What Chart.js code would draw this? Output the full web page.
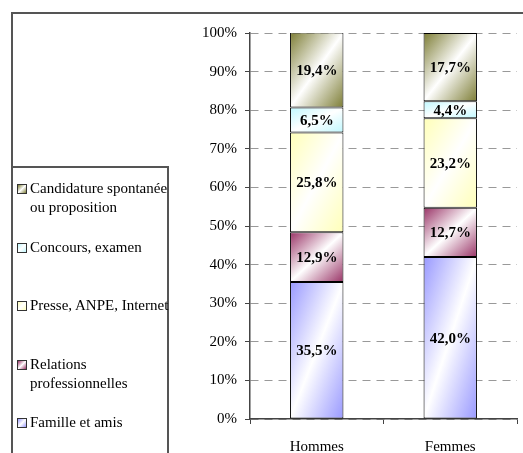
<!DOCTYPE html>
<html>
<head>
<meta charset="utf-8">
<script src="https://cdn.jsdelivr.net/npm/chart.js@4/dist/chart.umd.min.js"></script>
<style>
    body { margin: 0; background: #fff; font-family: "Times New Roman", "Liberation Serif", Times, serif; overflow: hidden; }
    #cadre { position: absolute; left: 11px; top: 12px; width: 600px; height: 500px; border: 2px solid #555; }
    #legende { position: absolute; left: 11px; top: 166px; width: 158px; height: 320px; border: 2px solid #555;
               padding-top: 11px; box-sizing: border-box; background: #fff; }
    .item { position: relative; height: 58.5px; padding-left: 17px; font-size: 15px; line-height: 19px; color: #000; white-space: nowrap; }
    .carre { position: absolute; left: 4px; top: 5px; width: 8px; height: 8px; border: 1px solid #333; }
    #graphique { position: absolute; left: 0; top: 0; }
</style>
</head>
<body>
<div id="cadre"></div>
<canvas id="graphique" width="523" height="453"></canvas>
<div id="legende"></div>
<script>
// categories et series (en %)
const categories = ['Hommes', 'Femmes'];
const famille = [35.5, 42.0];
const relations = [12.9, 12.7];
const presse = [25.8, 23.2];
const concours = [6.5, 4.4];
const candidature = [19.4, 17.7];
const yTicks = [0, 10, 20, 30, 40, 50, 60, 70, 80, 90, 100];

const POLICE = '"Times New Roman", "Liberation Serif", Times, serif';
const BAR_RATIO = 0.4;

// degrade diagonal : couleur dans les coins haut-gauche et bas-droite, blanc au milieu
function degrade(couleur) {
    return function(ctx) {
        const chart = ctx.chart;
        const xs = chart.scales.x, ys = chart.scales.y;
        if (ctx.type !== 'data' || !xs || !ys || !chart.chartArea) return couleur;
        const i = ctx.dataIndex, d = ctx.datasetIndex;
        let base = 0;
        for (let k = 0; k < d; k++) base += chart.data.datasets[k].data[i];
        const haut = base + chart.data.datasets[d].data[i];
        const w = (xs.width / chart.data.labels.length) * BAR_RATIO;
        const x0 = xs.getPixelForValue(i) - w / 2;
        const y0 = ys.getPixelForValue(haut);
        const h = ys.getPixelForValue(base) - y0;
        if (!(w > 0) || !(h > 0)) return couleur;
        const a = 2 / (1 / (w * w) + 1 / (h * h));
        const g = chart.ctx.createLinearGradient(x0, y0, x0 + a / w, y0 + a / h);
        g.addColorStop(0, couleur);
        g.addColorStop(0.5, '#ffffff');
        g.addColorStop(1, couleur);
        return g;
    };
}

const series = [
    { label: 'Famille et amis', data: famille, couleur: '#9999ff' },
    { label: 'Relations professionnelles', data: relations, couleur: '#993366', lignes: ['Relations', 'professionnelles'] },
    { label: 'Presse, ANPE, Internet', data: presse, couleur: '#ffffb8' },
    { label: 'Concours, examen', data: concours, couleur: '#bff8ff' },
    { label: 'Candidature spontanée ou proposition', data: candidature, couleur: '#7d7d35', lignes: ['Candidature spontanée', 'ou proposition'] }
];

// etiquettes de valeur au centre de chaque segment
const etiquettes = {
    id: 'etiquettes',
    afterDatasetsDraw(chart) {
        const c = chart.ctx;
        c.save();
        c.font = 'bold 15px ' + POLICE;
        c.fillStyle = '#000';
        c.textAlign = 'center';
        c.textBaseline = 'middle';
        chart.data.datasets.forEach((ds, d) => {
            chart.getDatasetMeta(d).data.forEach((bar, i) => {
                const p = bar.getCenterPoint();
                c.fillText(ds.data[i].toFixed(1).replace('.', ',') + '%', p.x, p.y + 1);
            });
        });
        c.restore();
    }
};

const ctx = document.getElementById('graphique').getContext('2d');
const graphique = new Chart(ctx, {
    type: 'bar',
    data: {
        labels: categories,
        datasets: series.map(s => ({
            label: s.label,
            data: s.data,
            backgroundColor: degrade(s.couleur),
            borderColor: '#000',
            borderWidth: 1,
            borderSkipped: false,
            categoryPercentage: 1,
            barPercentage: BAR_RATIO
        }))
    },
    options: {
        responsive: false,
        animation: false,
        layout: { padding: { left: 0, top: 33, right: 6, bottom: 0 } },
        plugins: {
            legend: { display: false },
            tooltip: { enabled: false }
        },
        scales: {
            x: {
                stacked: true,
                afterFit: s => { s.height = 34; },
                grid: {
                    offset: true,
                    color: c => c.index === categories.length ? '#999' : 'transparent',
                    tickColor: '#444',
                    tickLength: 5
                },
                border: { color: '#444', width: 1.5 },
                ticks: { color: '#000', padding: 14, font: { family: POLICE, size: 15 } }
            },
            y: {
                stacked: true,
                min: 0,
                max: 100,
                afterFit: s => { s.width = 250; },
                afterBuildTicks: s => { s.ticks = yTicks.map(v => ({ value: v })); },
                grid: { color: '#999', tickColor: '#444', tickLength: 5 },
                border: { color: '#444', width: 1.5, dash: [8, 6] },
                ticks: {
                    color: '#000',
                    padding: 8,
                    font: { family: POLICE, size: 15 },
                    callback: v => v + '%'
                }
            }
        }
    },
    plugins: [etiquettes]
});

// legende HTML, ordre inverse de l'empilement
const legende = document.getElementById('legende');
series.slice().reverse().forEach(s => {
    const item = document.createElement('div');
    item.className = 'item';
    const carre = document.createElement('span');
    carre.className = 'carre';
    carre.style.background = 'linear-gradient(135deg, ' + s.couleur + ', #fff, ' + s.couleur + ')';
    item.appendChild(carre);
    (s.lignes || [s.label]).forEach(t => {
        const l = document.createElement('div');
        l.textContent = t;
        item.appendChild(l);
    });
    legende.appendChild(item);
});
</script>
</body>
</html>
